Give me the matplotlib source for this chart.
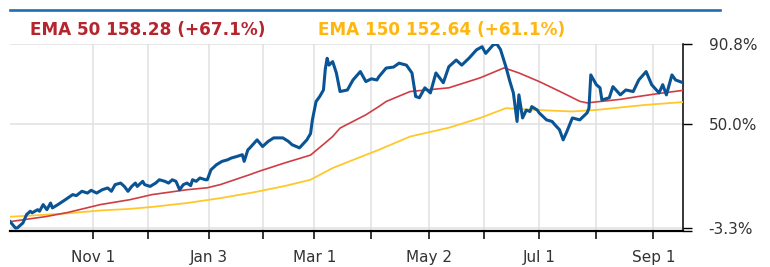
import numpy as np
import matplotlib.pyplot as plt
from matplotlib.lines import Line2D

# data (percent change since start date)
start = np.datetime64("2021-09-17")

price_days = [0, 3, 4, 7, 9, 11, 12, 15, 16, 18, 20, 22, 23, 26, 30, 34, 36, 39, 42, 44,
              47, 50, 53, 55, 57, 60, 62, 64, 66, 68, 69, 72, 73, 76, 79, 81, 84, 86, 88, 90,
              92, 94, 96, 98, 99, 101, 103, 106, 107, 109, 112, 115, 118, 120, 123, 126, 127, 129, 130, 134,
              137, 140, 143, 148, 151, 153, 157, 161, 163, 164, 166, 168, 170, 171, 172, 173, 175, 177, 179, 183,
              186, 190, 193, 196, 199, 200, 204, 208, 211, 215, 218, 220, 222, 225, 228, 231, 235, 238, 242, 245,
              249, 253, 256, 258, 262, 264, 266, 267, 269, 271, 273, 275, 276, 278, 280, 282, 283, 286, 287, 291,
              294, 296, 298, 300, 302, 305, 309, 313, 314, 315, 318, 320, 321, 325, 327, 331, 334, 338, 341, 345,
              348, 352, 354, 356, 359, 361, 365]
price_pct = [0.0, -3.3, -3.2, -0.7, 3.6, 5.3, 4.5, 6.1, 5.3, 8.7, 6.1, 9.5, 7.0, 8.7, 11.2, 13.8, 13.3, 15.5, 14.6, 16.0,
             14.6, 16.3, 17.2, 15.5, 18.9, 19.7, 18.0, 15.5, 18.0, 19.7, 18.0, 20.6, 18.9, 18.0, 19.7, 21.4, 20.6, 19.7, 21.4, 20.6,
             16.3, 18.9, 19.7, 18.4, 21.4, 20.6, 22.3, 21.4, 21.4, 26.5, 29.1, 30.8, 31.6, 32.5, 33.3, 34.2, 30.8, 36.7, 37.6, 41.8,
             38.4, 41.0, 42.8, 42.8, 41.0, 39.3, 37.7, 41.8, 45.0, 52.0, 61.4, 64.0, 67.3, 78.0, 83.5, 80.0, 81.8, 76.0, 66.5, 67.3,
             72.4, 76.7, 71.6, 73.0, 72.4, 74.0, 78.5, 79.0, 81.0, 80.0, 76.0, 64.0, 63.3, 68.4, 65.8, 76.0, 71.0, 79.2, 82.6, 80.0,
             83.6, 87.8, 89.4, 86.0, 90.3, 90.8, 88.0, 85.0, 79.0, 72.0, 65.8, 51.2, 64.8, 53.0, 57.0, 56.3, 58.8, 57.0, 55.6, 52.0,
             51.2, 49.0, 47.0, 41.8, 46.0, 53.0, 52.0, 55.6, 58.0, 75.0, 70.0, 68.4, 62.2, 63.3, 69.0, 64.8, 67.3, 66.5, 72.4, 76.7,
             70.0, 65.8, 70.0, 64.8, 75.0, 72.4, 71.0]

ema50_days = [0, 19, 31, 49, 65, 77, 96, 107, 114, 130, 135, 149, 163, 170, 175, 179, 193, 200, 204,
              217, 228, 238, 255, 268, 276, 287, 295, 302, 309, 313, 320, 331, 341, 352, 365]
ema50_pct = [0.0, 2.5, 4.6, 8.7, 11.2, 13.8, 16.3, 17.3, 18.9, 24.0, 25.7, 30.0, 34.0, 39.5, 43.5, 47.8, 54.6, 58.8, 61.4,
             66.5, 67.5, 68.4, 73.5, 78.6, 76.0, 71.6, 68.0, 64.8, 61.5, 60.7, 61.4, 62.5, 64.0, 65.5, 67.1]

ema150_days = [0, 12, 31, 49, 65, 77, 96, 114, 130, 135, 149, 163, 175, 190, 200, 217, 238, 255, 269,
               287, 305, 318, 345, 365]
ema150_pct = [2.5, 3.1, 4.2, 5.7, 6.5, 7.5, 9.5, 12.0, 14.6, 15.5, 18.2, 21.4, 27.4, 33.0, 36.7, 43.5, 48.0, 53.0, 58.0,
              57.0, 56.3, 57.1, 59.7, 61.1]

tick_dates = ["2021-11-01", "2021-12-01", "2022-01-03", "2022-02-01", "2022-03-01", "2022-04-01",
              "2022-05-02", "2022-06-01", "2022-07-01", "2022-08-01", "2022-09-01"]
tick_labels = ["Nov 1", "", "Jan 3", "", "Mar 1", "", "May 2", "", "Jul 1", "", "Sep 1"]
y_ticks = [-3.3, 50.0, 90.8]
y_labels = ["-3.3%", "50.0%", "90.8%"]
legend_texts = ["EMA 50 158.28 (+67.1%)", "EMA 150 152.64 (+61.1%)"]


def to_dates(days):
    return start + np.array(days).astype("timedelta64[D]")


plt.rcParams["font.family"] = ["DejaVu Sans"]

fig = plt.figure(figsize=(7.7, 2.67), dpi=100)
ax = fig.add_axes([10 / 770, 1 - 231 / 267, 673 / 770, 187 / 267])

ax.plot(to_dates(ema150_days), ema150_pct, color="#ffc82a", lw=1.3, zorder=3)
ax.plot(to_dates(ema50_days), ema50_pct, color="#cf3d44", lw=1.2, zorder=4)
ax.plot(to_dates(price_days), price_pct, color="#0b5494", lw=2.2, zorder=5)

ax.set_xlim(start, start + np.timedelta64(365, "D"))
ax.set_ylim(-4.8, 90.8)

# axes: only bottom and right
for side in ["left", "top"]:
    ax.spines[side].set_visible(False)
ax.spines["bottom"].set_linewidth(1.6)
ax.spines["right"].set_linewidth(1.1)
ax.spines["bottom"].set_color("black")
ax.spines["right"].set_color("black")

ax.set_xticks(np.array(tick_dates, dtype="datetime64[D]"), tick_labels)
ax.yaxis.tick_right()
ax.set_yticks(y_ticks, y_labels)
ax.set_yticks([-4.8], minor=True)

ax.tick_params(axis="x", direction="out", length=6, width=1.1, pad=8,
               labelsize=11, labelcolor="#333333")
ax.tick_params(axis="y", which="both", direction="out", length=6.5, width=1.0, pad=12,
               labelsize=11, labelcolor="#333333")

ax.grid(True, which="major", color="#e0e0e0", lw=1.1, zorder=0)
ax.set_axisbelow(True)

# header line and legend texts
fig.add_artist(Line2D([10 / 770, 720 / 770], [1 - 10 / 267, 1 - 10 / 267],
                      color="#1f6cb2", lw=1.9))
fig.text(30 / 770, 1 - 30 / 267, legend_texts[0], color="#b4252e",
         fontsize=12.2, fontweight="bold", va="center", ha="left")
fig.text(318 / 770, 1 - 30 / 267, legend_texts[1], color="#ffb70f",
         fontsize=12.2, fontweight="bold", va="center", ha="left")

fig.savefig("out.png", dpi=100)
